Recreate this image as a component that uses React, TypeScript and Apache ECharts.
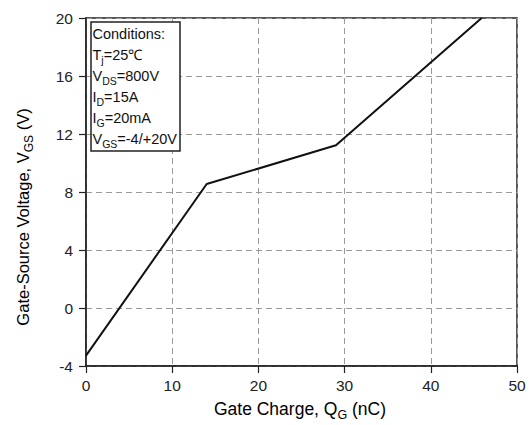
import React, { useEffect, useRef } from "react";
import * as echarts from "echarts";

const qgValues = [0, 14, 29, 45.9];
const vgsValues = [-3.28, 8.55, 11.22, 20];
const xTicks = { min: 0, max: 50, interval: 10 };
const yTicks = { min: -4, max: 20, interval: 4 };
const conditionLines = [
  "{n|Conditions:}",
  "{n|T}{s|j}{n|=25℃}",
  "{n|V}{s|DS}{n|=800V}",
  "{n|I}{s|D}{n|=15A}",
  "{n|I}{s|G}{n|=20mA}",
  "{n|V}{s|GS}{n|=-4/+20V}",
];

const FONT = "Liberation Sans, Arial, Helvetica, sans-serif";

export default function App() {
  const ref = useRef<HTMLDivElement>(null);
  useEffect(() => {
    const chart = echarts.init(ref.current!, null, { renderer: "svg" });
    const richBase = {
      n: { fontSize: 14.5, fontFamily: FONT, color: "#111", lineHeight: 21, verticalAlign: "middle" },
      s: { fontSize: 10.5, fontFamily: FONT, color: "#111", lineHeight: 10, verticalAlign: "bottom" },
    };
    const yTitleRich = {
      n: { fontSize: 16.5, fontFamily: FONT, color: "#111", lineHeight: 24, verticalAlign: "middle" },
      s: { fontSize: 12, fontFamily: FONT, color: "#111", lineHeight: 12, verticalAlign: "bottom" },
    };
    const xTitleRich = {
      n: { fontSize: 17.5, fontFamily: FONT, color: "#111", lineHeight: 25, verticalAlign: "middle" },
      s: { fontSize: 12.5, fontFamily: FONT, color: "#111", lineHeight: 12, verticalAlign: "bottom" },
    };
    chart.setOption({
      animation: false,
      backgroundColor: "#fff",
      grid: {
        left: 86,
        right: 14,
        top: 18,
        bottom: 59,
        show: true,
        borderColor: "#222",
        borderWidth: 1.5,
        containLabel: false,
      },
      xAxis: {
        type: "value",
        min: xTicks.min,
        max: xTicks.max,
        interval: xTicks.interval,
        axisLine: { show: true, onZero: false, lineStyle: { color: "#222", width: 1.5 } },
        axisTick: { show: true, length: 7, lineStyle: { color: "#222", width: 1.2 } },
        axisLabel: { margin: 11, fontSize: 15.5, fontFamily: FONT, color: "#222" },
        splitLine: { show: true, lineStyle: { color: "#999", type: [6, 4], width: 1 } },
      },
      yAxis: {
        type: "value",
        min: yTicks.min,
        max: yTicks.max,
        interval: yTicks.interval,
        axisLine: { show: true, onZero: false, lineStyle: { color: "#222", width: 1.5 } },
        axisTick: { show: true, length: 7, lineStyle: { color: "#222", width: 1.2 } },
        axisLabel: { margin: 13, fontSize: 15.5, fontFamily: FONT, color: "#222" },
        splitLine: { show: true, lineStyle: { color: "#999", type: [6, 4], width: 1 } },
      },
      series: [
        {
          type: "line",
          data: qgValues.map((q, i) => [q, vgsValues[i]]),
          symbol: "none",
          lineStyle: { color: "#111", width: 2 },
          clip: true,
          z: 3,
        },
      ],
      graphic: [
        {
          type: "rect",
          shape: { x: 91, y: 22, width: 89, height: 129 },
          style: { fill: "#fff", stroke: "#222", lineWidth: 1.5 },
          z: 10,
        },
        {
          type: "text",
          x: 92.5,
          y: 23,
          z: 11,
          style: {
            text: conditionLines.join("\n"),
            rich: richBase,
            fontSize: 14.5,
            fontFamily: FONT,
            fill: "#111",
          },
        },
        {
          type: "text",
          x: 300,
          y: 409,
          style: {
            text: "{n|Gate Charge, Q}{s|G}{n| (nC)}",
            rich: xTitleRich,
            align: "center",
            verticalAlign: "middle",
            fontSize: 17.5,
            fontFamily: FONT,
          },
        },
        {
          type: "text",
          x: 23,
          y: 217,
          rotation: Math.PI / 2,
          style: {
            text: "{n|Gate-Source Voltage, V}{s|GS}{n| (V)}",
            rich: yTitleRich,
            align: "center",
            verticalAlign: "middle",
            fontSize: 16.5,
            fontFamily: FONT,
          },
        },
      ],
    });
    return () => chart.dispose();
  }, []);
  return (
    <div
      ref={ref}
      style={{ position: "fixed", left: 0, top: 0, width: 531, height: 425, background: "#fff" }}
    />
  );
}
